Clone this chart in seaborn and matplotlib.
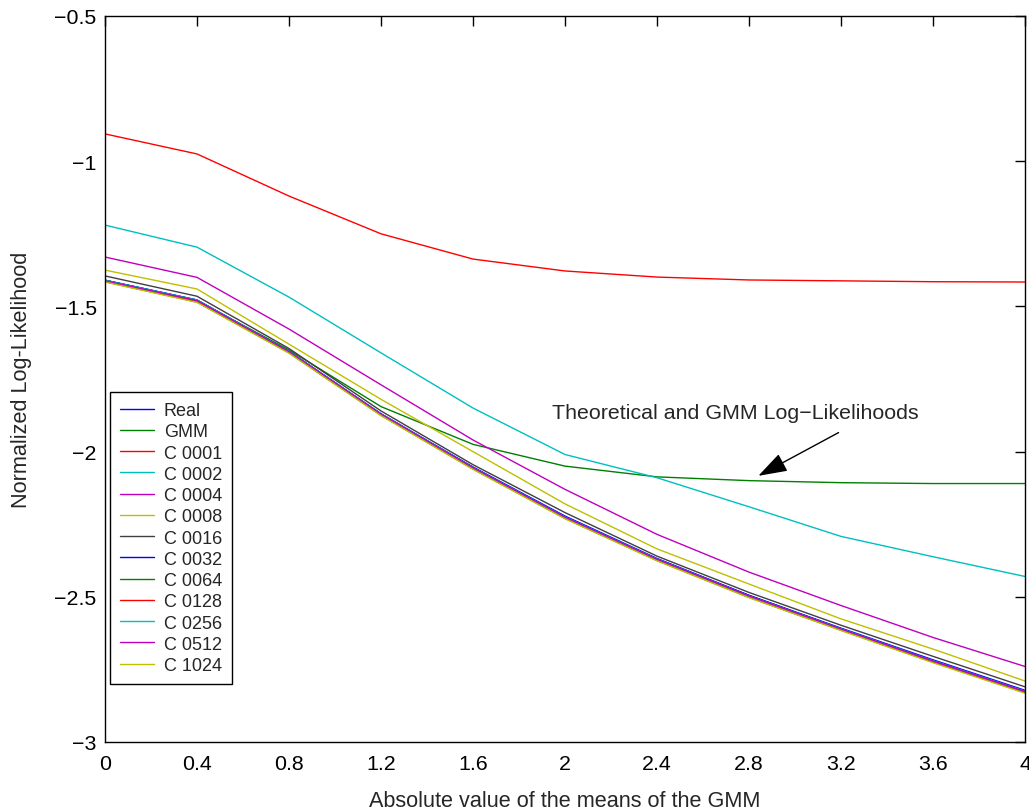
import numpy as np
import pandas as pd
import matplotlib
matplotlib.use("Agg")
import matplotlib.pyplot as plt
from matplotlib.ticker import FuncFormatter
import seaborn as sns

# absolute value of the GMM means
x_means = [0.0, 0.4, 0.8, 1.2, 1.6, 2.0, 2.4, 2.8, 3.2, 3.6, 4.0]

# normalized log-likelihood curves
real = [-1.410, -1.478, -1.655, -1.870, -2.055, -2.225, -2.370, -2.495, -2.610, -2.720, -2.825]
gmm = [-1.410, -1.480, -1.650, -1.845, -1.975, -2.050, -2.087, -2.100, -2.107, -2.110, -2.110]
c0001 = [-0.906, -0.975, -1.120, -1.250, -1.337, -1.378, -1.399, -1.409, -1.412, -1.415, -1.416]
c0002 = [-1.220, -1.296, -1.468, -1.660, -1.850, -2.010, -2.090, -2.190, -2.292, -2.362, -2.430]
c0004 = [-1.330, -1.400, -1.578, -1.770, -1.960, -2.130, -2.285, -2.415, -2.530, -2.640, -2.740]
c0008 = [-1.375, -1.440, -1.630, -1.820, -2.000, -2.180, -2.335, -2.456, -2.576, -2.680, -2.790]
c0016 = [-1.395, -1.465, -1.645, -1.860, -2.045, -2.210, -2.360, -2.485, -2.598, -2.705, -2.810]
c0032 = [-1.410, -1.478, -1.655, -1.870, -2.053, -2.222, -2.368, -2.495, -2.608, -2.717, -2.822]
c0064 = [-1.415, -1.485, -1.660, -1.875, -2.060, -2.230, -2.375, -2.502, -2.615, -2.725, -2.830]
c0128 = [-1.412, -1.482, -1.657, -1.872, -2.057, -2.227, -2.372, -2.498, -2.612, -2.722, -2.827]
c0256 = [-1.410, -1.478, -1.655, -1.870, -2.055, -2.225, -2.370, -2.497, -2.610, -2.720, -2.825]
c0512 = [-1.412, -1.480, -1.656, -1.871, -2.056, -2.226, -2.371, -2.497, -2.611, -2.721, -2.826]
c1024 = [-1.416, -1.486, -1.661, -1.876, -2.061, -2.231, -2.376, -2.503, -2.616, -2.727, -2.832]

labels = ["Real", "GMM", "C 0001", "C 0002", "C 0004", "C 0008", "C 0016",
          "C 0032", "C 0064", "C 0128", "C 0256", "C 0512", "C 1024"]
series = [real, gmm, c0001, c0002, c0004, c0008, c0016,
          c0032, c0064, c0128, c0256, c0512, c1024]

# old matlab colour order b g r c m y k
matlab_colors = [(0, 0, 1), (0, 0.5, 0), (1, 0, 0), (0, 0.75, 0.75),
                 (0.75, 0, 0.75), (0.75, 0.75, 0), (0.25, 0.25, 0.25)]
palette = {lab: matlab_colors[i % 7] for i, lab in enumerate(labels)}

rows = []
for lab, vals in zip(labels, series):
    for xv, yv in zip(x_means, vals):
        rows.append({"x": xv, "y": yv, "curve": lab})
df = pd.DataFrame(rows)

sns.set_style("white")
plt.rcParams["font.family"] = ["Liberation Sans", "DejaVu Sans"]

fig = plt.figure(figsize=(10.29, 8.12), dpi=100)
ax = fig.add_axes([105 / 1029, 1 - 743 / 812, 920 / 1029, 726 / 812])

sns.lineplot(data=df, x="x", y="y", hue="curve", hue_order=labels,
             palette=palette, linewidth=1.0, ax=ax, sort=False)

ax.set_xlim(0, 4)
ax.set_ylim(-3, -0.5)
ax.set_xticks(x_means)
ax.set_yticks(np.arange(-3, -0.49, 0.5))
fmt = FuncFormatter(lambda v, p: ("%g" % round(v, 4)).replace("-", "\u2212"))
ax.xaxis.set_major_formatter(fmt)
ax.yaxis.set_major_formatter(fmt)
ax.tick_params(direction="in", length=7, width=1, labelsize=15.4,
               top=True, right=True, colors="black", pad=6)
ax.tick_params(axis="x", pad=9)
for sp in ax.spines.values():
    sp.set_color("black")
    sp.set_linewidth(1.0)

ax.set_xlabel("Absolute value of the means of the GMM", fontsize=15.6, labelpad=12)
ax.set_ylabel("Normalized Log-Likelihood", fontsize=15.6, labelpad=16)

ax.text(2.742, -1.867, "Theoretical and GMM Log\u2212Likelihoods",
        fontsize=15.4, ha="center", va="center")
ax.annotate("", xy=(2.83, -2.088), xytext=(3.2, -1.93),
            arrowprops=dict(arrowstyle="-|>,head_length=0.9,head_width=0.3",
                            color="black", lw=1, mutation_scale=20))

handles, lbls = ax.get_legend_handles_labels()
leg = ax.legend(handles, lbls, loc="lower left", bbox_to_anchor=(0.005, 0.08),
                borderaxespad=0, fontsize=13, handlelength=1.9,
                handletextpad=0.55, labelspacing=0.235, borderpad=0.55,
                fancybox=False, framealpha=1, edgecolor="black")
leg.get_frame().set_linewidth(1.0)

fig.savefig("out.png", dpi=100)
